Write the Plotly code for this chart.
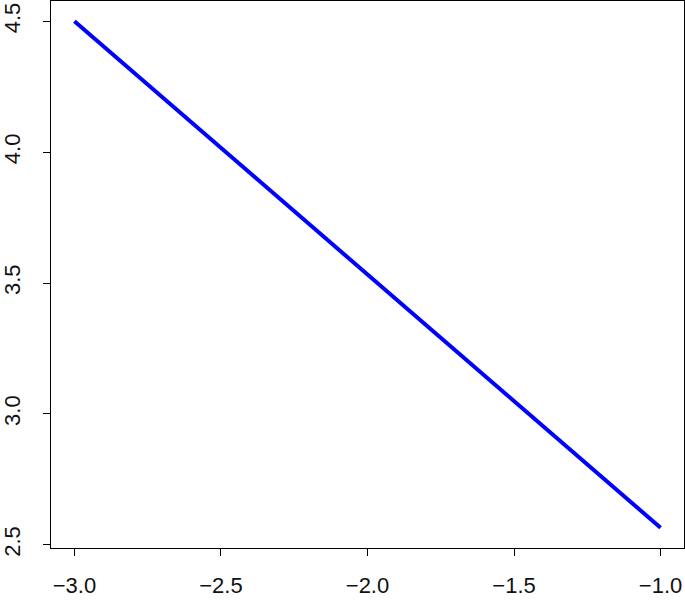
import plotly.graph_objects as go

# line
x_vals = [-3.0, -2.5, -2.0, -1.5, -1.0]
y_vals = [4.5, 4.016, 3.533, 3.049, 2.565]

x_ticks = [-3.0, -2.5, -2.0, -1.5, -1.0]
y_ticks = [2.5, 3.0, 3.5, 4.0, 4.5]

fig = go.Figure()
fig.add_trace(go.Scatter(x=x_vals, y=y_vals, mode="lines",
                         line=dict(color="#0000ff", width=4)))

axis_style = dict(showgrid=False, zeroline=False, showline=True, mirror=True,
                  linecolor="black", linewidth=1, ticks="outside", ticklen=7,
                  tickcolor="black", tickformat=".1f", automargin=False,
                  tickfont=dict(family="Liberation Sans, Arial", size=22, color="#111111"))

fig.update_xaxes(range=[-3.08, -0.92], tickvals=x_ticks, ticklabelstandoff=11, **axis_style)
fig.update_yaxes(range=[2.4876, 4.5774], tickvals=y_ticks, tickangle=-90,
                 ticklabelstandoff=14, **axis_style)

fig.update_layout(width=685, height=600, showlegend=False,
                  margin=dict(l=51, r=1, t=1, b=52),
                  paper_bgcolor="white", plot_bgcolor="white")

# drop the browser's default body margin so the figure sits at the top-left corner
fig.write_html("out.html", config={"displayModeBar": False},
               post_script="document.body.style.margin='0';")
